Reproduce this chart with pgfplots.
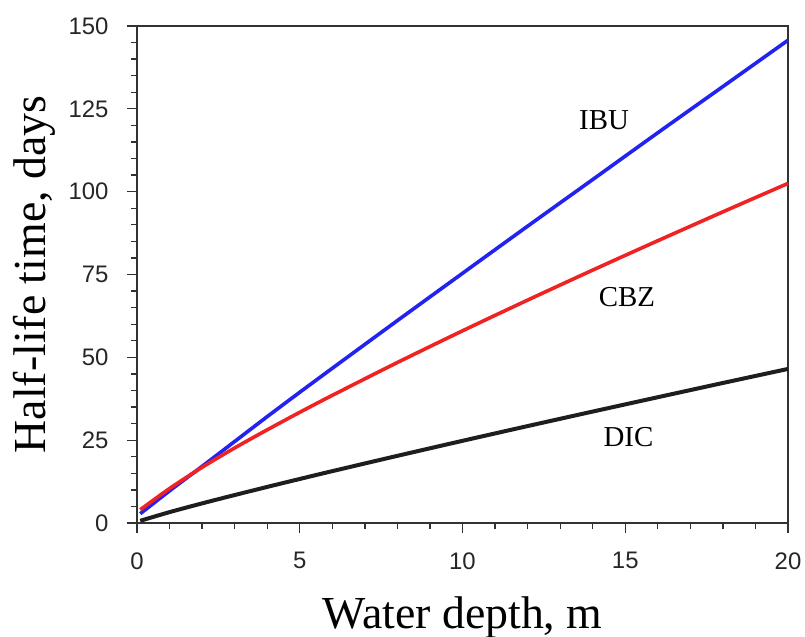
\documentclass[border=0pt]{standalone}
\usepackage{fontspec}
\setmainfont{Liberation Serif}
\newfontfamily\tickfont{Liberation Sans}
\usepackage{pgfplots}
\usepackage{pgfplotstable}
\pgfplotsset{compat=1.18}

\definecolor{ibublue}{RGB}{35,35,240}
\definecolor{cbzred}{RGB}{240,35,35}
\definecolor{dicblack}{RGB}{30,30,30}
\definecolor{axisgray}{RGB}{50,50,50}

% half-life time (days) against water depth (m)
\pgfplotstableread{
x     ibu     cbz     dic
0.1   2.80    4.00    0.66
1     9.70    10.40   3.28
2     17.10   16.80   5.92
3     24.60   22.65   8.44
4     32.10   28.12   10.89
5     39.45   33.41   13.29
6     46.70   38.53   15.65
8     61.09   48.44   20.27
10    75.36   58.00   24.80
12    89.58   67.27   29.25
14    103.66  76.33   33.63
16    117.78  85.19   37.96
18    131.73  93.91   42.26
20    145.70  102.49  46.50
}\depthdata

\begin{document}
\begin{tikzpicture}
\useasboundingbox (-137bp,-114bp) rectangle (668bp,523bp);
\begin{axis}[
    at={(0,0)}, anchor=south west,
    scale only axis, width=651bp, height=497bp,
    xmin=0, xmax=20, ymin=0, ymax=150,
    xtick={0,5,...,20}, ytick={0,25,...,150},
    minor tick num=4,
    tick pos=left, tick align=outside,
    major tick length=10bp, minor tick length=6bp,
    axis line style={axisgray, line width=1.6bp},
    tick style={axisgray, line width=1.3bp},
    ticklabel style={font=\tickfont\fontsize{24}{24}\selectfont, text=black!85},
    xticklabel style={yshift=-16bp},
    yticklabel style={xshift=-15bp},
    /pgf/number format/assume math mode=true,
    xlabel={Water depth, m},
    ylabel={Half-life time, days},
    xlabel style={font=\fontsize{46}{46}\selectfont, at={(axis description cs:0.5,-0.2113)}, anchor=base},
    ylabel style={font=\fontsize{46}{46}\selectfont, at={(axis description cs:-0.1413,0.5)}, anchor=base},
    every axis plot/.append style={line join=round},
    clip=false,
]
\addplot[ibublue, line width=3.6bp, smooth] table[x=x, y=ibu] {\depthdata};
\addplot[cbzred, line width=3.6bp, smooth] table[x=x, y=cbz] {\depthdata};
\addplot[dicblack, line width=4bp, smooth] table[x=x, y=dic] {\depthdata};

\node[font=\fontsize{29}{29}\selectfont] at (axis cs:14.35,121.6) {IBU};
\node[font=\fontsize{29}{29}\selectfont] at (axis cs:15.05,68.2) {CBZ};
\node[font=\fontsize{29}{29}\selectfont] at (axis cs:15.1,26) {DIC};
\end{axis}
\end{tikzpicture}
\end{document}
